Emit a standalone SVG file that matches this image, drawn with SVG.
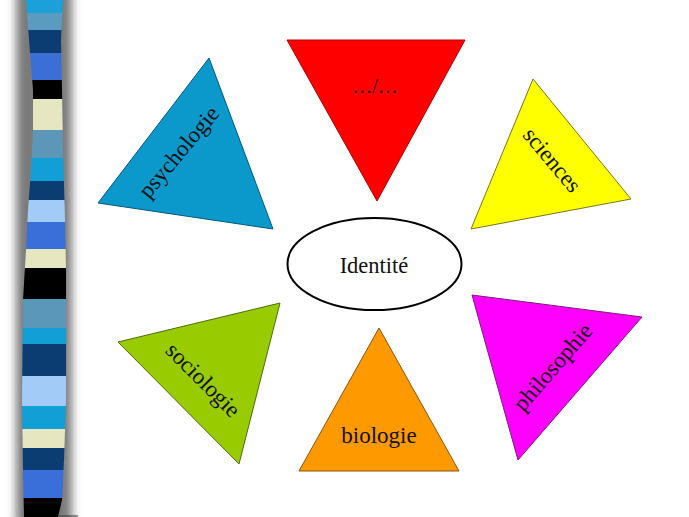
<svg xmlns="http://www.w3.org/2000/svg" width="689" height="517" viewBox="0 0 689 517">
<defs>
<style>
.tri{stroke-width:1;stroke-linejoin:miter}
.lbl{font-family:"Liberation Serif","Times New Roman",serif;font-size:23px;fill:#111111;text-anchor:middle}
</style>
<filter id="blur" x="-50%" y="-5%" width="200%" height="110%"><feGaussianBlur stdDeviation="5"/></filter>
<clipPath id="stripClip">
<path d="M26,0 L29,40 L33,90 L33,130 L31,170 L28,210 L26,250 L23,300 L22,400 L23,470 L24,517 L58,517 L62,500 L64,460 L66,400 L66,270 L65,220 L63,150 L62,90 L61,40 L63,0 Z"/>
</clipPath>
</defs>
<rect width="689" height="517" fill="#ffffff"/>
<g id="strip">
<rect x="16" y="-10" width="56" height="537" fill="#7a7a7a" filter="url(#blur)"/>
<g clip-path="url(#stripClip)">
<rect x="0" y="0" width="90" height="13" fill="#1ba0d9"/>
<rect x="0" y="13" width="90" height="17" fill="#5b9bc0"/>
<rect x="0" y="30" width="90" height="23" fill="#0b3c72"/>
<rect x="0" y="53" width="90" height="27" fill="#3b6fd6"/>
<rect x="0" y="80" width="90" height="19" fill="#000000"/>
<rect x="0" y="99" width="90" height="31" fill="#e6e6c0"/>
<rect x="0" y="130" width="90" height="28" fill="#5d97b8"/>
<rect x="0" y="158" width="90" height="23" fill="#129fd6"/>
<rect x="0" y="181" width="90" height="19" fill="#0b3c72"/>
<rect x="0" y="200" width="90" height="22" fill="#a3cbf7"/>
<rect x="0" y="222" width="90" height="27" fill="#3a6ed8"/>
<rect x="0" y="249" width="90" height="19" fill="#e6e6c0"/>
<rect x="0" y="268" width="90" height="31" fill="#000000"/>
<rect x="0" y="299" width="90" height="29" fill="#5b97b8"/>
<rect x="0" y="328" width="90" height="16" fill="#129fd6"/>
<rect x="0" y="344" width="90" height="32" fill="#0b3c72"/>
<rect x="0" y="376" width="90" height="30" fill="#a3cbf7"/>
<rect x="0" y="406" width="90" height="23" fill="#129fd6"/>
<rect x="0" y="429" width="90" height="19" fill="#e6e6c0"/>
<rect x="0" y="448" width="90" height="22" fill="#0b3c72"/>
<rect x="0" y="470" width="90" height="28" fill="#3a6ed8"/>
<rect x="0" y="498" width="90" height="19" fill="#000000"/>
</g>
<line x1="58" y1="516" x2="78" y2="516" stroke="#333" stroke-width="1"/>
</g>
<g id="etc">
<polygon class="tri" points="287,40 465,40 377,201" fill="#ff0000" stroke="#b00000"/>
<text class="lbl" x="375" y="93" style="font-size:20px">…/…</text>
</g>
<g id="psychologie">
<polygon class="tri" points="209,58 98,203 273,229" fill="#0b99cc" stroke="#05577a"/>
<text class="lbl" transform="translate(180,153) rotate(-50)" x="0" y="6">psychologie</text>
</g>
<g id="sciences">
<polygon class="tri" points="533,79 631,199 471,229" fill="#ffff00" stroke="#77771a"/>
<text class="lbl" transform="translate(551,161) rotate(50)" x="0" y="6">sciences</text>
</g>
<g id="sociologie">
<polygon class="tri" points="280,303 118,342 239,464" fill="#99cc00" stroke="#4f6a10"/>
<text class="lbl" transform="translate(202,381) rotate(45)" x="0" y="6">sociologie</text>
</g>
<g id="biologie">
<polygon class="tri" points="379,328 299,471 459,471" fill="#ff9900" stroke="#8a5510"/>
<text class="lbl" x="379" y="443">biologie</text>
</g>
<g id="philosophie">
<polygon class="tri" points="472,295 642,317 518,460" fill="#ff00ff" stroke="#7a1a7a"/>
<text class="lbl" transform="translate(554,368) rotate(-49)" x="0" y="6">philosophie</text>
</g>
<g id="identite">
<ellipse cx="374.5" cy="264" rx="87" ry="46" fill="#ffffff" stroke="#000000" stroke-width="2"/>
<text class="lbl" x="374" y="273" style="font-size:22.5px">Identité</text>
</g>
</svg>
